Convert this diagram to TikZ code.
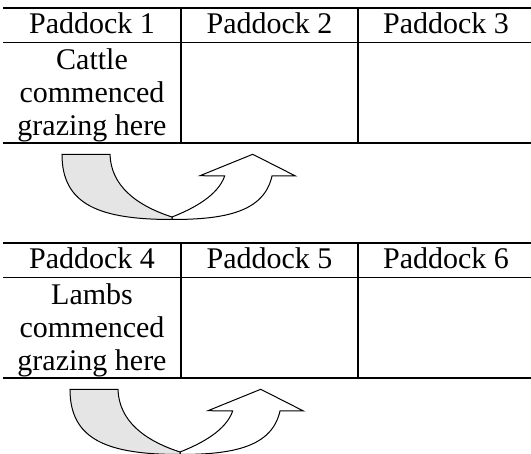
\documentclass[tikz,border=0pt]{standalone}
\usepackage{fontspec}
\setmainfont{Liberation Serif}
\begin{document}
\begin{tikzpicture}[x=1pt,y=-1pt,
  thickrule/.style={line width=2pt},
  thinrule/.style={line width=1.6pt},
  lbl/.style={anchor=base,inner sep=0pt,font=\fontsize{30}{33}\selectfont},
  band/.style={draw=black,line width=1pt,line join=miter},
  shadeband/.style={band,fill=gray!20},
  plainband/.style={band,fill=white}]
\useasboundingbox (0,0) rectangle (531,454);
% ---------- table 1 ----------
\draw[thickrule] (3.3,7.6) -- (531,7.6);
\draw[thinrule] (3.3,42.7) -- (531,42.7);
\draw[thickrule] (3.3,143.2) -- (531,143.2);
\draw[thinrule] (181,7.6) -- (181,143.2);
\draw[thinrule] (358,7.6) -- (358,143.2);
\node[lbl] (p1) at (92,33.5) {Paddock 1};
\node[lbl] (p2) at (269.5,33.5) {Paddock 2};
\node[lbl] (p3) at (446,33.5) {Paddock 3};
\node[lbl] (c1) at (92,70) {Cattle};
\node[lbl] (c2) at (92,103) {commenced};
\node[lbl] (c3) at (92,136) {grazing here};
% ---------- arrow 1 ----------
\path[plainband] (172,217) .. controls (195,208) and (218,195) .. (224.7,176) -- (200,175.7) -- (252.7,154.3) -- (295.5,176) -- (272,176) .. controls (264,212) and (225,219.5) .. (172,219.5) -- cycle;
\path[shadeband] (62,154.5) -- (110,154.5) .. controls (111,185) and (135,205) .. (172,217) -- (172,219.5) .. controls (100,219.5) and (62,205) .. (62,154.5) -- cycle;
% ---------- table 2 ----------
\begin{scope}[shift={(0,235)}]
\draw[thickrule] (3.3,7.6) -- (531,7.6);
\draw[thinrule] (3.3,42.7) -- (531,42.7);
\draw[thickrule] (3.3,143.2) -- (531,143.2);
\draw[thinrule] (181,7.6) -- (181,143.2);
\draw[thinrule] (358,7.6) -- (358,143.2);
\node[lbl] (p4) at (92,33.5) {Paddock 4};
\node[lbl] (p5) at (269.5,33.5) {Paddock 5};
\node[lbl] (p6) at (446,33.5) {Paddock 6};
\node[lbl] (l1) at (92,70) {Lambs};
\node[lbl] (l2) at (92,103) {commenced};
\node[lbl] (l3) at (92,136) {grazing here};
\end{scope}
% ---------- arrow 2 ----------
\begin{scope}[shift={(8,235)}]
\path[plainband] (172,217) .. controls (195,208) and (218,195) .. (224.7,176) -- (200,175.7) -- (252.7,154.3) -- (295.5,176) -- (272,176) .. controls (264,212) and (225,219.5) .. (172,219.5) -- cycle;
\path[shadeband] (62,154.5) -- (110,154.5) .. controls (111,185) and (135,205) .. (172,217) -- (172,219.5) .. controls (100,219.5) and (62,205) .. (62,154.5) -- cycle;
\end{scope}
\end{tikzpicture}
\end{document}
